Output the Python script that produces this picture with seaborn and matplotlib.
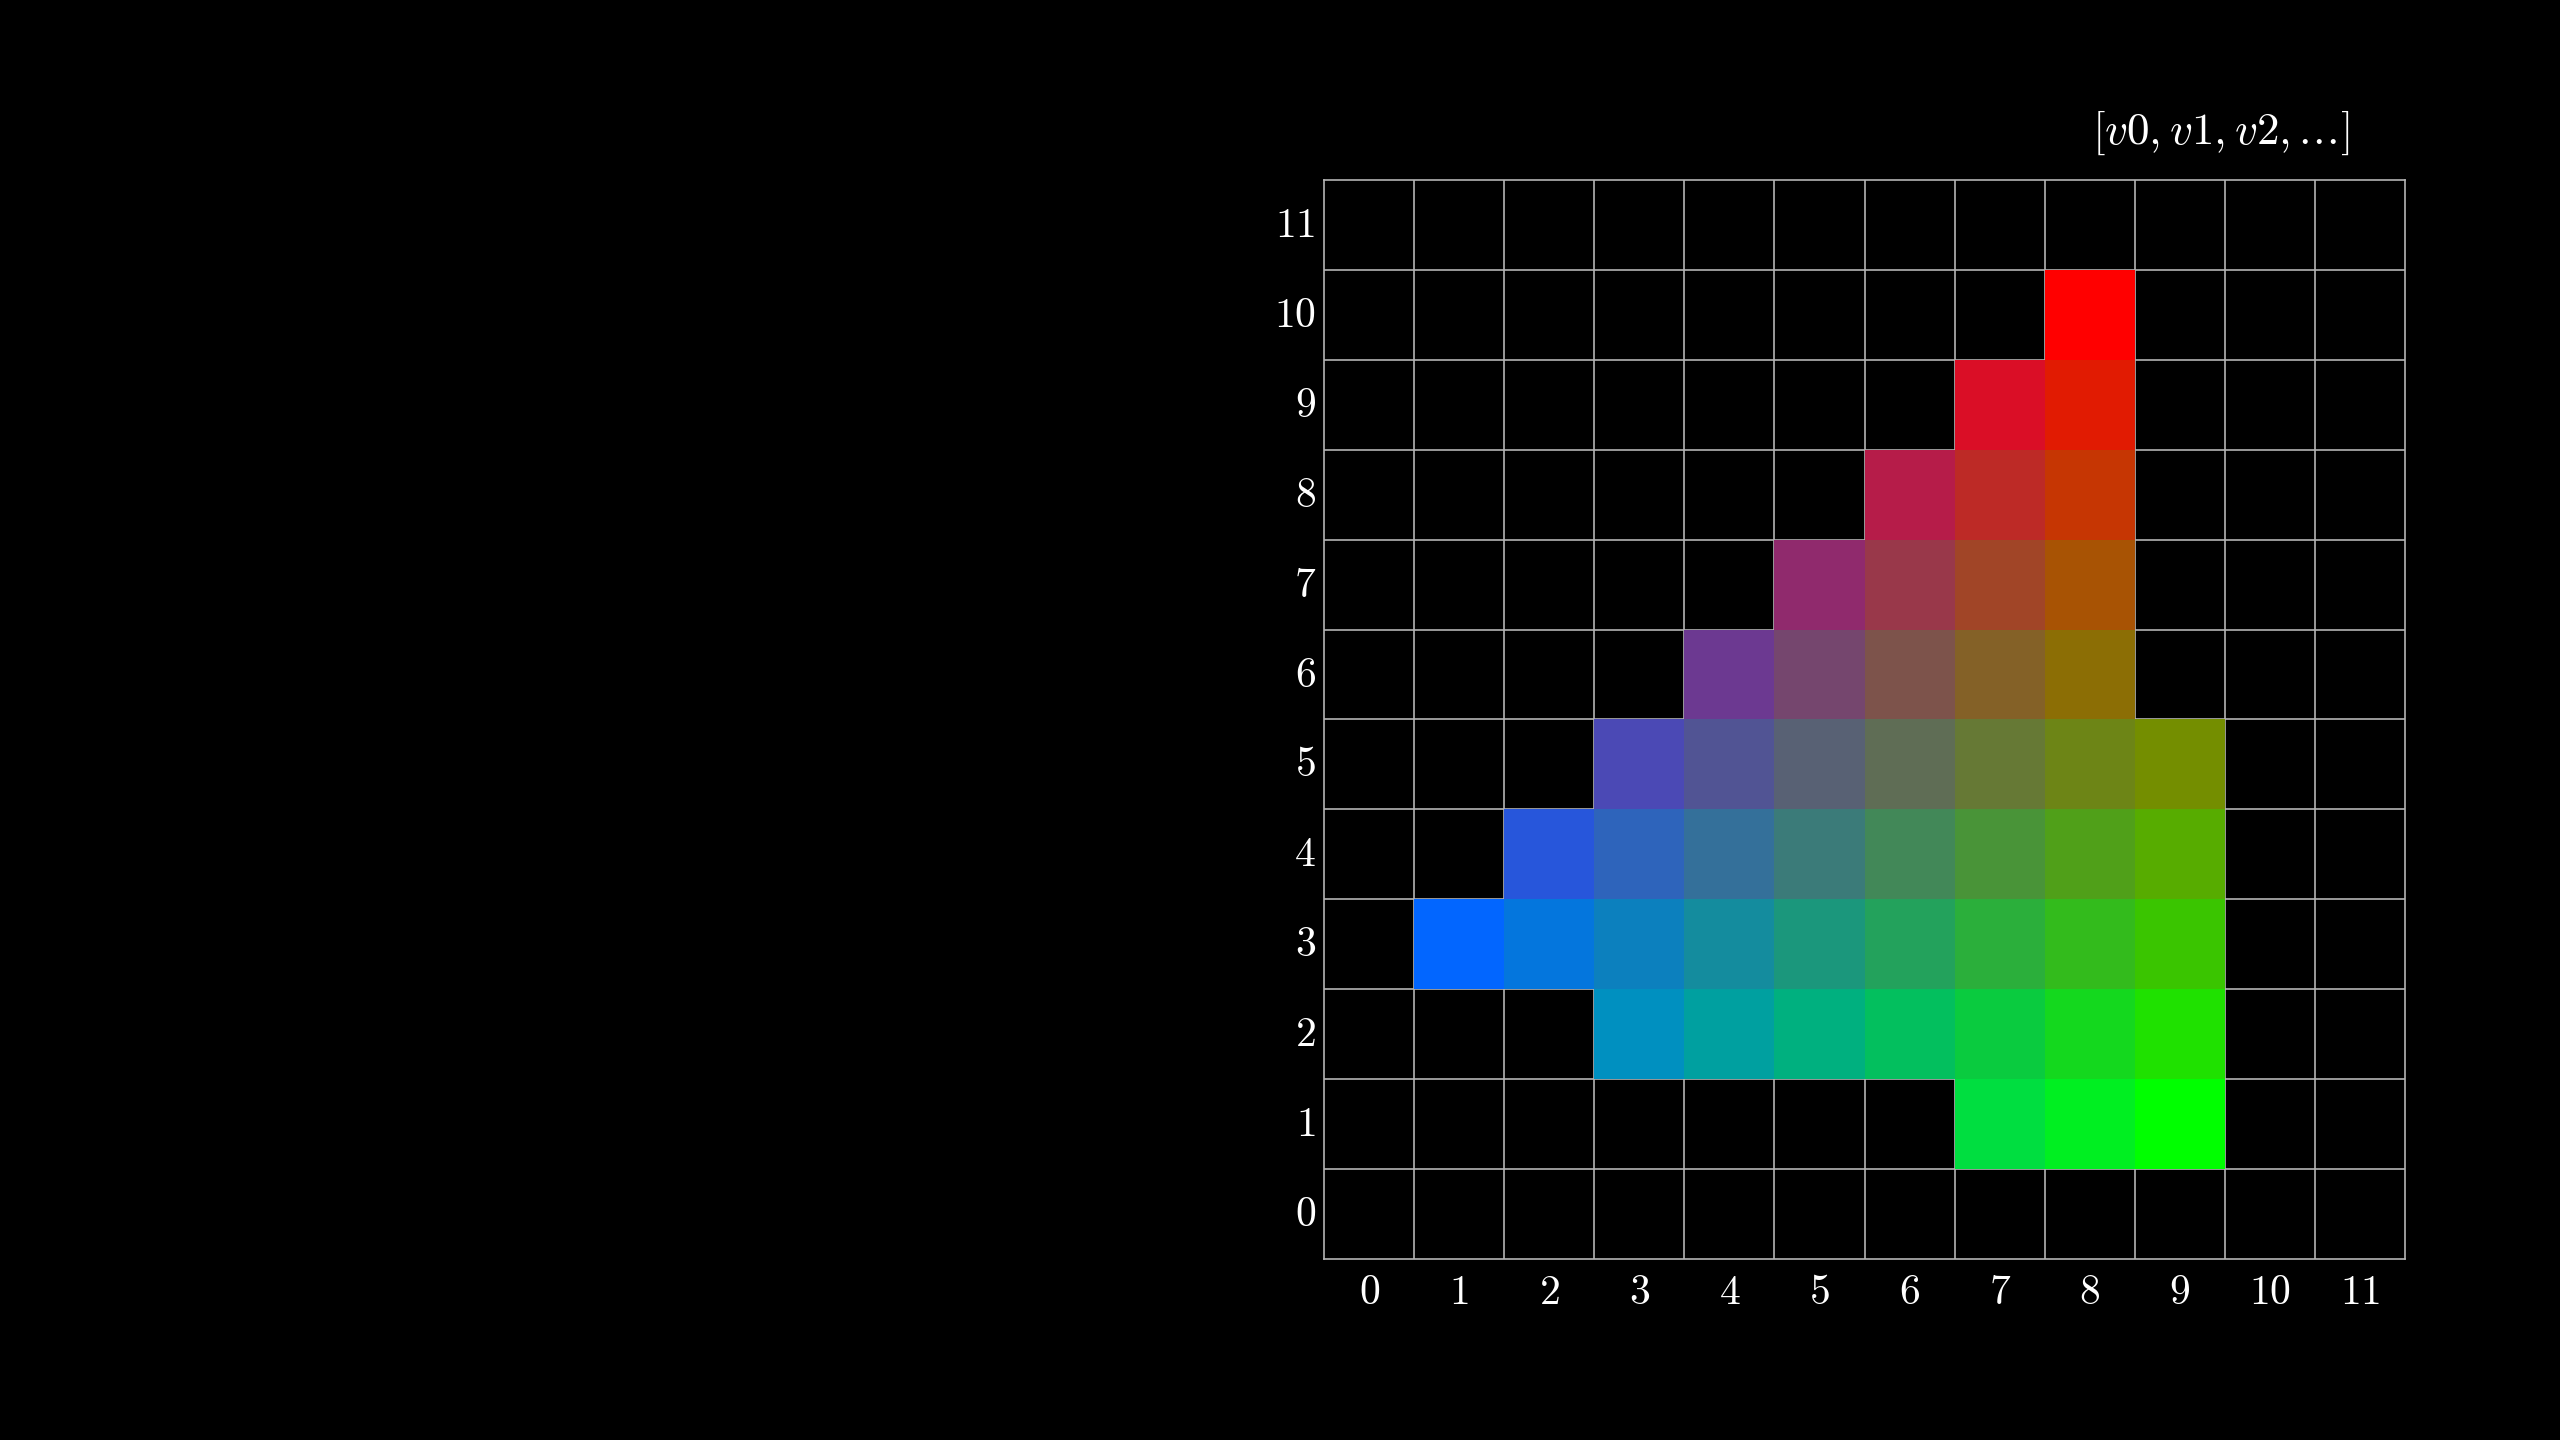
import numpy as np
import pandas as pd
import seaborn as sns
import matplotlib.pyplot as plt
from matplotlib.colors import ListedColormap

# 격자 크기
grid_n = 12
tick_labels = [str(i) for i in range(grid_n)]
title_text = r'$[v0, v1, v2, .\!.\!.\!]$'

# 채워진 셀: 행(y), 시작 열(x), 색
cell_rows = [10, 9, 8, 7, 6, 5, 4, 3, 2, 1]
cell_x_start = [8, 7, 6, 5, 4, 3, 2, 1, 3, 7]
cell_colors = [
    ['#FF0000'],
    ['#DA0E26', '#E11B02'],
    ['#B61C49', '#BD2A26', '#C63603'],
    ['#902A6D', '#99384A', '#A14527', '#A85304'],
    ['#6C3991', '#75466E', '#7D534B', '#846127', '#8C6E05'],
    ['#4B49B5', '#515494', '#586174', '#5F6D55', '#667935', '#6D8516', '#748E00'],
    ['#2756DB', '#2E64BB', '#34709A', '#3B7B79', '#428858', '#499438', '#50A019', '#57AC00'],
    ['#0266FF', '#0476DD', '#0C80BE', '#148C9E', '#1B977C', '#23A25C', '#2BAF3B', '#33BB1C', '#3AC500'],
    ['#0090C0', '#00A0A0', '#00B07F', '#03BF5E', '#0ACB3F', '#14D81E', '#1FE100'],
    ['#00DE40', '#00EF21', '#00FF00'],
]

# 셀마다 색 인덱스를 매김
records = []
palette = []
for y, x0, cols in zip(cell_rows, cell_x_start, cell_colors):
    for k, c in enumerate(cols):
        records.append({'x': x0 + k, 'y': y, 'idx': len(palette)})
        palette.append(c)
cells = pd.DataFrame(records)
mat = cells.pivot(index='y', columns='x', values='idx')
mat = mat.reindex(index=range(grid_n), columns=range(grid_n))

sns.set_style('dark')
plt.rcParams.update({
    'figure.facecolor': 'black',
    'axes.facecolor': 'black',
    'mathtext.fontset': 'cm',
    'text.color': 'white',
    'xtick.color': 'white',
    'ytick.color': 'white',
})

fig = plt.figure(figsize=(25.6, 14.4), dpi=100)
ax = fig.add_axes([0.5172, 0.1257, 0.4223, 0.7493])

sns.heatmap(mat, ax=ax, cmap=ListedColormap(palette), vmin=-0.5,
            vmax=len(palette) - 0.5, cbar=False, linewidths=0)

ax.set_xlim(0, grid_n)
ax.set_ylim(0, grid_n)

# 격자선
ax.set_axisbelow(True)
ax.set_xticks(np.arange(1, grid_n), minor=True)
ax.set_yticks(np.arange(1, grid_n), minor=True)
ax.grid(which='minor', color='#b4b4b4', linewidth=1.2)
ax.grid(which='major', visible=False)
for s in ax.spines.values():
    s.set_visible(True)
    s.set_color('#b4b4b4')
    s.set_linewidth(1.2)

ax.set_xticks(np.arange(grid_n) + 0.5)
ax.set_yticks(np.arange(grid_n) + 0.5)
ax.set_xticklabels(['$' + t + '$' for t in tick_labels], rotation=0)
ax.set_yticklabels(['$' + t + '$' for t in tick_labels], rotation=0)
ax.tick_params(which='both', length=0, labelsize=30)
ax.tick_params(axis='x', pad=9)
ax.tick_params(axis='y', pad=6)
ax.set_xlabel('')
ax.set_ylabel('')

fig.text(2221 / 2560, 1 - 133 / 1440, title_text, ha='center', va='center',
         fontsize=32.5, color='white')

fig.savefig('out.png', dpi=100, facecolor='black')
